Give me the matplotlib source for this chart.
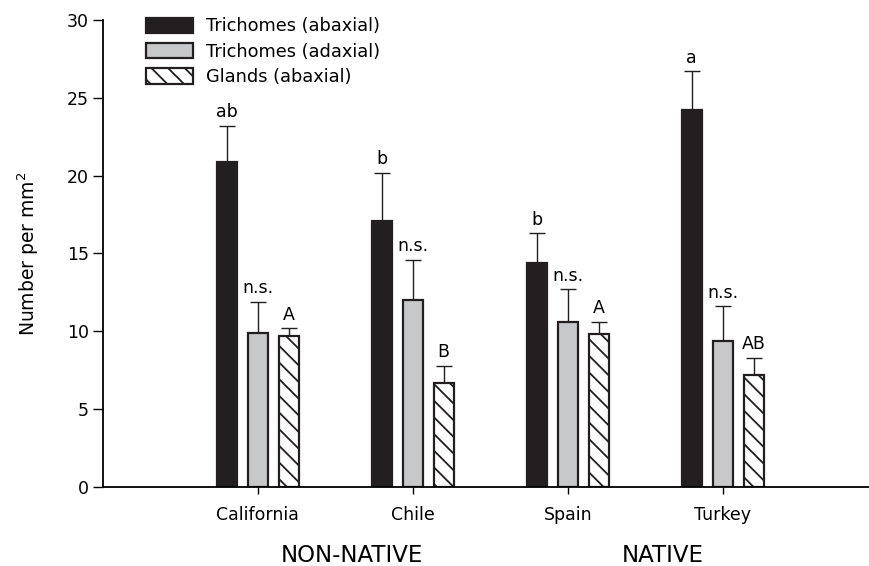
import matplotlib
matplotlib.use("Agg")
import matplotlib.pyplot as plt
import numpy as np

plt.rcParams['font.family'] = ['DejaVu Sans']
plt.rcParams['hatch.linewidth'] = 1.3

sites = ["California", "Chile", "Spain", "Turkey"]
series = ["Trichomes (abaxial)", "Trichomes (adaxial)", "Glands (abaxial)"]

tri_abaxial = [20.9, 17.1, 14.4, 24.2]
tri_abaxial_err = [2.3, 3.1, 1.9, 2.5]
tri_adaxial = [9.9, 12.0, 10.6, 9.4]
tri_adaxial_err = [2.0, 2.6, 2.1, 2.2]
glands = [9.7, 6.7, 9.8, 7.2]
glands_err = [0.5, 1.1, 0.8, 1.1]

letters_abaxial = ["ab", "b", "b", "a"]
letters_adaxial = ["n.s.", "n.s.", "n.s.", "n.s."]
letters_glands = ["A", "B", "A", "AB"]

groups = ["NON-NATIVE", "NATIVE"]

fig = plt.figure(figsize=(8.7, 5.66), dpi=100)
ax = fig.add_axes([0.118, 0.1396, 0.882, 0.8251])

x = np.arange(1, len(sites) + 1)
w = 0.13
off = 0.2

vals = [tri_abaxial, tri_adaxial, glands]
errs = [tri_abaxial_err, tri_adaxial_err, glands_err]
letters = [letters_abaxial, letters_adaxial, letters_glands]
colors = ["#231f20", "#c6c8c9", "white"]
hatches = [None, None, "\\\\"]

for i in range(3):
    pos = x + (i - 1) * off
    ax.bar(pos, vals[i], w, color=colors[i], edgecolor="#231f20",
           linewidth=1.6, hatch=hatches[i], label=series[i], zorder=2)
    ax.errorbar(pos, vals[i], yerr=[np.zeros(len(sites)), errs[i]], fmt="none",
                ecolor="#231f20", elinewidth=1, capsize=6, capthick=1, zorder=1)
    for p, v, e, t in zip(pos, vals[i], errs[i], letters[i]):
        ax.text(p, v + e + 0.3, t, ha="center", va="bottom", fontsize=12.5)

ax.set_xlim(0, 4.95)
ax.set_ylim(0, 30)
ax.set_yticks(range(0, 31, 5))
ax.set_xticks(x)
ax.set_xticklabels(sites, fontsize=12.5)
ax.tick_params(axis="y", labelsize=12.5, direction="out", length=7, width=1, pad=3)
ax.tick_params(axis="x", direction="out", length=5, width=1, pad=9)
ax.spines["top"].set_visible(False)
ax.spines["right"].set_visible(False)
ax.spines["left"].set_linewidth(1.3)
ax.spines["bottom"].set_linewidth(1.3)
ax.set_ylabel("Number per mm$^2$", fontsize=13.5)
ax.yaxis.set_label_coords(-0.08, 0.5)

# group labels sit a little right of the midpoints in the original
ax.text(1.61, -4.37, groups[0], ha="center", va="center", fontsize=16.5)
ax.text(3.61, -4.37, groups[1], ha="center", va="center", fontsize=16.5)

leg = ax.legend(loc="upper left", bbox_to_anchor=(0.036, 1.04), frameon=False,
                fontsize=12.8, handlelength=2.65, handleheight=0.95,
                labelspacing=0.42, handletextpad=0.7)

fig.savefig("out.png", dpi=100)
